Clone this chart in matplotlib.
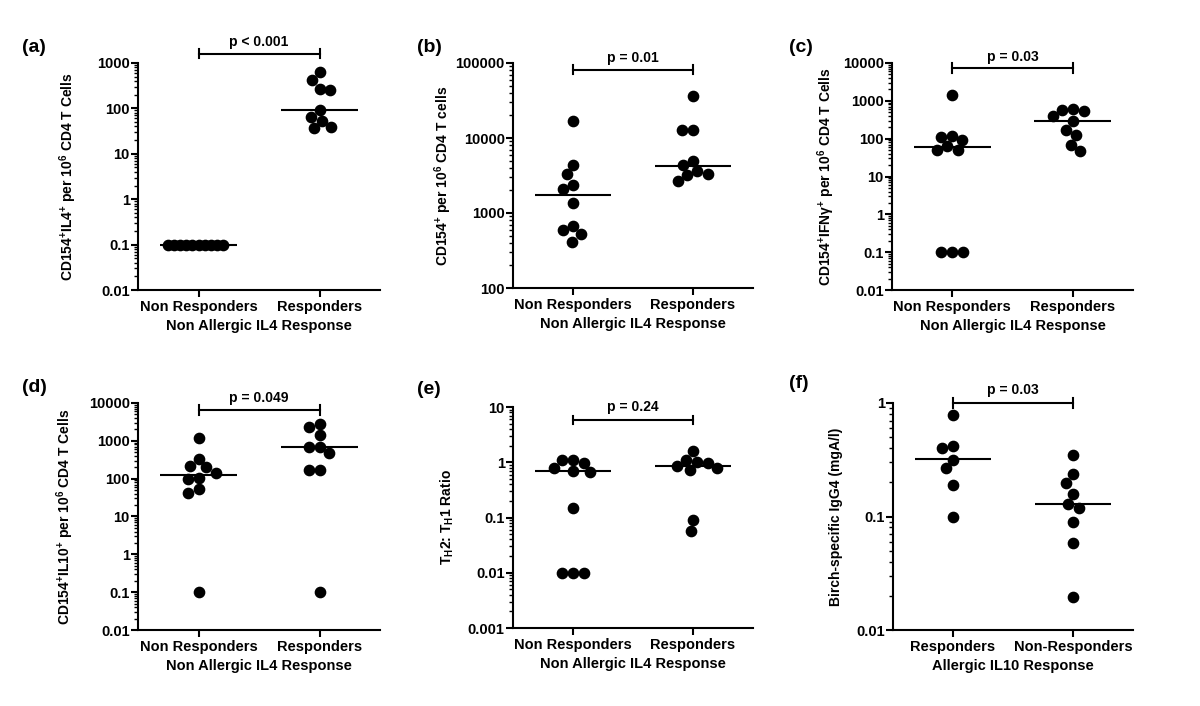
import numpy as np
import matplotlib
matplotlib.use("Agg")
import matplotlib.pyplot as plt
from matplotlib.ticker import FixedLocator, FixedFormatter, LogLocator, NullFormatter
import matplotlib.transforms as mtransforms

plt.rcParams['font.family'] = ['Liberation Sans', 'DejaVu Sans']
plt.rcParams['font.weight'] = 'bold'
plt.rcParams['mathtext.default'] = 'regular'

# ---------------- data ----------------
groups_il4 = ["Non Responders", "Responders"]
groups_il10 = ["Responders", "Non-Responders"]

a_nonresp = [0.1, 0.1, 0.1, 0.1, 0.1, 0.1, 0.1, 0.1, 0.1, 0.1]
a_resp = [622, 415, 250, 272, 93, 54, 65, 37, 39]
a_median = [0.1, 93]

b_nonresp = [16700, 4400, 3340, 2360, 2090, 1360, 664, 600, 520, 415]
b_resp = [35900, 12900, 12900, 4990, 4370, 3660, 3340, 3180, 2670]
b_median = [1740, 4280]

c_nonresp = [1390, 90, 110, 115, 63, 51, 49, 0.1, 0.1, 0.1]
c_resp = [620, 550, 580, 395, 297, 172, 124, 68, 46]
c_median = [59, 286]

d_nonresp = [1180, 329, 202, 210, 145, 102, 96, 52, 41, 0.1]
d_resp = [2840, 2270, 1420, 670, 680, 483, 168, 168, 0.1]
d_median = [124, 670]

e_nonresp = [1.12, 1.10, 0.98, 0.80, 0.68, 0.70, 0.149, 0.01, 0.01, 0.01]
e_resp = [1.59, 1.02, 1.12, 0.95, 0.85, 0.78, 0.72, 0.091, 0.058]
e_median = [0.69, 0.85]

f_resp = [0.79, 0.42, 0.40, 0.317, 0.267, 0.188, 0.10]
f_nonresp = [0.347, 0.236, 0.198, 0.158, 0.129, 0.12, 0.0887, 0.059, 0.0197]
f_median = [0.318, 0.129]

p_texts = ["p < 0.001", "p = 0.01", "p = 0.03", "p = 0.049", "p = 0.24", "p = 0.03"]

ticks_a = [0.01, 0.1, 1, 10, 100, 1000]
ticklabels_a = ["0.01", "0.1", "1", "10", "100", "1000"]
ticks_b = [100, 1000, 10000, 100000]
ticklabels_b = ["100", "1000", "10000", "100000"]
ticks_cd = [0.01, 0.1, 1, 10, 100, 1000, 10000]
ticklabels_cd = ["0.01", "0.1", "1", "10", "100", "1000", "10000"]
ticks_e = [0.001, 0.01, 0.1, 1, 10]
ticklabels_e = ["0.001", "0.01", "0.1", "1", "10"]
ticks_f = [0.01, 0.1, 1]
ticklabels_f = ["0.01", "0.1", "1"]

ylabels = [
    r"CD154$^{+}$IL4$^{+}$ per 10$^{6}$ CD4 T Cells",
    r"CD154$^{+}$ per 10$^{6}$ CD4 T cells",
    r"CD154$^{+}$IFN$\gamma^{+}$ per 10$^{6}$ CD4 T Cells",
    r"CD154$^{+}$IL10$^{+}$ per 10$^{6}$ CD4 T Cells",
    r"T$_{H}$2: T$_{H}$1 Ratio",
    "Birch-specific IgG4 (mgA/l)",
]
xlabels = ["Non Allergic IL4 Response"] * 5 + ["Allergic IL10 Response"]
panel_letters = ["(a)", "(b)", "(c)", "(d)", "(e)", "(f)"]

# ---------------- layout (pixels, 1200x706) ----------------
W, H = 1200, 706
axes_px = [(138, 380, 63, 290), (513, 753, 63, 288), (892, 1133, 63, 290),
           (138, 380, 403, 630), (513, 753, 407, 628), (893, 1133, 403, 630)]
ylabel_x_px = [68, 443, 826, 65, 447, 836]
letter_px = [(22, 47), (417, 47), (789, 47), (22, 387), (417, 390), (789, 383)]
bracket_frac = [(1.040, 1.093), (0.969, 1.022), (0.978, 1.026),
                (0.969, 1.022), (0.941, 1.0), (1.0, 1.057)]

panels = [
    (a_nonresp, a_resp, a_median, ticks_a, ticklabels_a, groups_il4),
    (b_nonresp, b_resp, b_median, ticks_b, ticklabels_b, groups_il4),
    (c_nonresp, c_resp, c_median, ticks_cd, ticklabels_cd, groups_il4),
    (d_nonresp, d_resp, d_median, ticks_cd, ticklabels_cd, groups_il4),
    (e_nonresp, e_resp, e_median, ticks_e, ticklabels_e, groups_il4),
    (f_resp, f_nonresp, f_median, ticks_f, ticklabels_f, groups_il10),
]

fig = plt.figure(figsize=(W / 100, H / 100), dpi=100)
LW = 1.5
MS = 7.4
DIAM_PX = 11.0


def swarm_offsets(ax, xc, vals, max_off=0.25):
    """Classic beeswarm in pixel space; returns x offsets in data units."""
    trans = ax.transData
    ypix = np.array([trans.transform((xc, v))[1] for v in vals])
    x0 = trans.transform((0, vals[0]))[0]
    x1 = trans.transform((1, vals[0]))[0]
    px_per_unit = x1 - x0
    order = np.argsort(-ypix)
    placed = []
    offs = np.zeros(len(vals))
    for i in order:
        cands = [0.0]
        for (px, py) in placed:
            dy = ypix[i] - py
            if abs(dy) < DIAM_PX:
                dx = np.sqrt(DIAM_PX ** 2 - dy ** 2)
                cands += [px + dx, px - dx]
        cands = sorted(cands, key=lambda c: (abs(c), c))
        for c in cands:
            ok = True
            for (px, py) in placed:
                if (c - px) ** 2 + (ypix[i] - py) ** 2 < DIAM_PX ** 2 - 1e-6:
                    ok = False
                    break
            if ok:
                offs[i] = c
                placed.append((c, ypix[i]))
                break
    offs = offs / px_per_unit
    m = np.max(np.abs(offs)) if len(offs) else 0
    if m > max_off:
        offs = offs * max_off / m
    return offs


for k, (g0, g1, med, ticks, tlabels, cats) in enumerate(panels):
    l, r, t, b = axes_px[k]
    ax = fig.add_axes([l / W, 1 - b / H, (r - l) / W, (b - t) / H])
    ax.set_yscale("log")
    ax.set_ylim(ticks[0], ticks[-1])
    ax.set_xlim(-0.5, 1.5)

    for xi, vals in enumerate([g0, g1]):
        offs = swarm_offsets(ax, xi, vals)
        ax.plot(xi + offs, vals, "o", color="black", ms=MS, mec="black",
                clip_on=False, zorder=3)
        ax.plot([xi - 0.32, xi + 0.32], [med[xi], med[xi]], color="black",
                lw=LW, solid_capstyle="butt", zorder=2)

    # axes styling
    for s in ["top", "right"]:
        ax.spines[s].set_visible(False)
    for s in ["left", "bottom"]:
        ax.spines[s].set_linewidth(LW)
    ax.yaxis.set_major_locator(FixedLocator(ticks))
    ax.yaxis.set_major_formatter(FixedFormatter(tlabels))
    ax.yaxis.set_minor_locator(LogLocator(base=10, subs=np.arange(2, 10)))
    ax.yaxis.set_minor_formatter(NullFormatter())
    ax.tick_params(axis="y", which="major", length=5, width=LW, labelsize=10.5, pad=1)
    ax.tick_params(axis="y", which="minor", length=3, width=1.0)
    ax.set_xticks([0, 1])
    ax.set_xticklabels(cats, fontsize=10.5, fontweight="bold")
    ax.tick_params(axis="x", length=5, width=LW, pad=2)
    for lab in ax.get_yticklabels():
        lab.set_fontweight("bold")
    ax.set_xlabel(xlabels[k], fontsize=10.5, fontweight="bold", labelpad=4)
    ax.set_ylabel(ylabels[k], fontsize=10, fontweight="bold", va="center")
    ax.yaxis.set_label_coords((ylabel_x_px[k] - l) / (r - l), 0.5)

    # significance bracket
    by, ty = bracket_frac[k]
    tr = mtransforms.blended_transform_factory(ax.transData, ax.transAxes)
    ax.plot([0, 1], [by, by], color="black", lw=LW, transform=tr, clip_on=False)
    for xe in [0, 1]:
        ax.plot([xe, xe], [by - 0.02, by + 0.02], color="black", lw=LW,
                transform=tr, clip_on=False)
    ax.text(0.5, ty, p_texts[k], transform=tr, ha="center", va="center",
            fontsize=10, fontweight="bold")

    lx, ly = letter_px[k]
    fig.text(lx / W, 1 - ly / H, panel_letters[k], ha="left", va="center",
             fontsize=14, fontweight="bold")

fig.savefig("out.png", dpi=100, facecolor="white")
